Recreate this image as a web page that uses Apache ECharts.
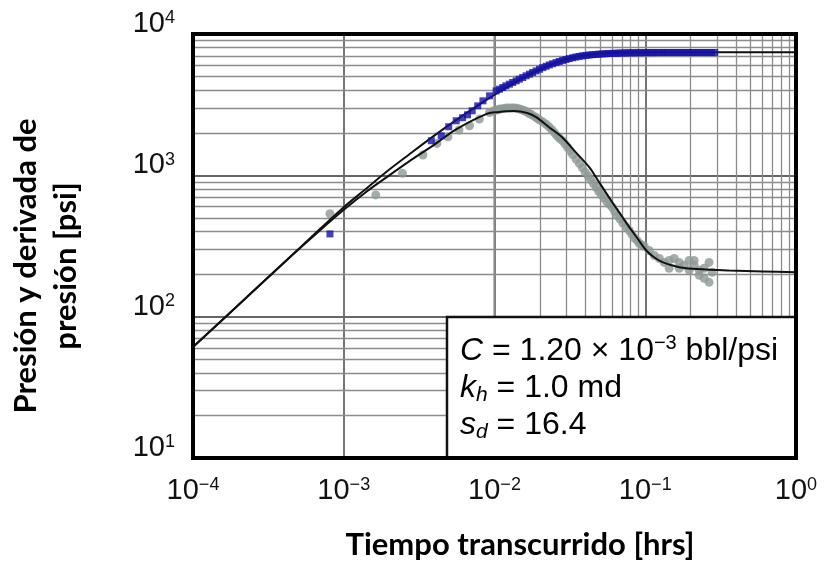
<!DOCTYPE html>
<html><head><meta charset="utf-8">
<script src="https://cdn.jsdelivr.net/npm/echarts@6/dist/echarts.min.js"></script>
<style>html,body{margin:0;padding:0;background:#fff}#c{width:824px;height:562px}</style>
</head><body><div id="c"></div>
<script>
// ---- tick labels ----
const xTickExponents = ['\u22124', '\u22123', '\u22122', '\u22121', '0'];   // 10^-4 .. 10^0
const yTickExponents = ['1', '2', '3', '4'];                                 // 10^1 .. 10^4

// ---- measured pressure (blue squares) ----
const pressureTime = [8.1e-4, 3.81e-3, 4.43e-3, 4.97e-3, 5.57e-3, 6.14e-3, 6.62e-3, 7.11e-3, 7.74e-3, 8.38e-3,
  9.27e-3, 1.026e-2, 1.08e-2, 1.135e-2, 1.19e-2, 1.256e-2, 1.32e-2, 1.393e-2, 1.46e-2, 1.538e-2,
  1.62e-2, 1.706e-2, 1.79e-2, 1.888e-2, 1.99e-2, 2.09e-2, 2.2e-2, 2.31e-2, 2.43e-2, 2.56e-2,
  2.69e-2, 2.83e-2, 2.98e-2, 3.13e-2, 3.3e-2, 3.46e-2, 3.64e-2, 3.83e-2, 4.03e-2, 4.24e-2,
  4.46e-2, 4.69e-2, 4.93e-2, 5.19e-2, 5.46e-2, 5.74e-2, 6.04e-2, 6.35e-2, 6.68e-2, 7.02e-2,
  7.39e-2, 7.77e-2, 8.17e-2, 8.6e-2, 9.04e-2, 9.5e-2, 0.1, 0.105, 0.11, 0.116,
  0.122, 0.129, 0.135, 0.142, 0.15, 0.157, 0.165, 0.174, 0.183, 0.193,
  0.203, 0.213, 0.224, 0.236, 0.248, 0.261, 0.275, 0.289];
const pressureValue = [385, 1757, 1906, 2206, 2432, 2555, 2680, 2862, 3102, 3366,
  3651, 3960, 4070, 4180, 4300, 4415, 4540, 4660, 4790, 4918,
  5060, 5196, 5340, 5480, 5630, 5785, 5910, 6040, 6160, 6275,
  6390, 6500, 6600, 6700, 6790, 6870, 6940, 7000, 7050, 7100,
  7140, 7170, 7200, 7230, 7255, 7280, 7295, 7310, 7325, 7340,
  7350, 7360, 7365, 7370, 7375, 7380, 7385, 7390, 7390, 7390,
  7395, 7395, 7395, 7400, 7400, 7400, 7400, 7400, 7400, 7400,
  7400, 7400, 7400, 7400, 7400, 7400, 7400, 7400];

// ---- measured pressure derivative (grey circles) ----
const derivTime = [8.1e-4, 1.63e-3, 2.45e-3, 3.35e-3, 4.15e-3, 4.91e-3, 5.81e-3, 6.82e-3, 7.94e-3, 9.27e-3,
  9.8e-3, 1.03e-2, 1.07e-2, 1.1e-2, 1.15e-2, 1.2e-2, 1.25e-2, 1.3e-2, 1.35e-2, 1.4e-2,
  1.45e-2, 1.5e-2, 1.55e-2, 1.6e-2, 1.65e-2, 1.7e-2, 1.77e-2, 1.85e-2, 1.92e-2, 2.0e-2,
  2.1e-2, 2.2e-2, 2.3e-2, 2.4e-2, 2.5e-2, 2.6e-2, 2.7e-2, 2.82e-2, 2.93e-2, 3.05e-2,
  3.17e-2, 3.3e-2, 3.48e-2, 3.66e-2, 3.83e-2, 4.0e-2, 4.17e-2, 4.35e-2, 4.53e-2, 4.72e-2,
  4.9e-2, 5.1e-2, 5.32e-2, 5.55e-2, 5.8e-2, 6.04e-2, 6.27e-2, 6.5e-2, 6.8e-2, 7.1e-2,
  7.45e-2, 7.83e-2, 8.15e-2, 8.5e-2, 8.85e-2, 0.0912, 0.095, 0.0985, 0.106, 0.1148,
  0.124, 0.1336, 0.144, 0.1556, 0.168, 0.181, 0.1956, 0.211, 0.228, 0.246,
  0.265, 0.278, 0.228, 0.246, 0.265, 0.1956, 0.168, 0.144, 0.211];
const derivValue = [535, 727, 1033, 1393, 1682, 1876, 2091, 2243, 2500, 2784,
  2850, 2900, 2930, 2950, 2975, 2990, 3000, 3000, 2995, 2980,
  2955, 2920, 2890, 2850, 2800, 2740, 2680, 2600, 2530, 2450,
  2380, 2300, 2200, 2100, 2000, 1900, 1830, 1760, 1670, 1580,
  1490, 1400, 1300, 1210, 1130, 1050, 990, 930, 875, 823,
  775, 730, 690, 650, 620, 594, 555, 520, 490, 460,
  432, 407, 382, 360, 345, 330, 322, 315, 294, 271,
  258, 242, 220, 258, 242, 231, 250, 231, 213, 220,
  242, 206, 196, 187, 175, 213, 220, 250, 250];

// ---- model curves (black lines) ----
const modelPressureTime = [1e-4, 2e-4, 4e-4, 7e-4, 1e-3, 1.4e-3, 1.92e-3, 2.7e-3, 3.9e-3, 5.5e-3,
  8e-3, 1.1e-2, 1.5e-2, 2e-2, 2.6e-2, 3.5e-2, 5e-2, 7e-2, 0.12, 0.3, 1];
const modelPressureValue = [61, 121, 241, 420, 595, 800, 1060, 1400, 1880, 2440,
  3190, 3950, 4800, 5600, 6300, 6900, 7280, 7390, 7420, 7430, 7430];
const modelDerivTime = [1e-4, 2e-4, 4e-4, 7e-4, 1e-3, 1.4e-3, 1.92e-3, 2.7e-3, 3.9e-3, 5.5e-3,
  8.8e-3, 1.05e-2, 1.35e-2, 1.65e-2, 1.9e-2, 2.3e-2, 2.82e-2, 3.5e-2, 4.26e-2, 5e-2,
  6.04e-2, 7e-2, 7.83e-2, 9e-2, 0.1016, 0.115, 0.13, 0.15, 0.168, 0.22, 0.36, 0.6, 1];
const modelDerivValue = [61, 121, 240, 410, 570, 760, 968, 1250, 1622, 2100,
  2712, 2800, 2850, 2760, 2570, 2190, 1854, 1436, 1139, 877,
  645, 513, 430, 351, 294, 262, 243, 231, 224, 217, 212, 209, 206];

const zip = (a, b) => a.map((t, i) => [t, b[i]]);

// minor log grid lines (2..9 of each decade)
const minorX = [], minorY = [];
for (let d = -4; d < 0; d++) for (let m = 2; m <= 9; m++) minorX.push(+(m * Math.pow(10, d)).toPrecision(3));
for (let d = 1; d < 4; d++) for (let m = 2; m <= 9; m++) minorY.push(+(m * Math.pow(10, d)).toPrecision(3));

const tickRich = {
  b: { fontSize: 29, fontFamily: 'Liberation Sans', color: '#111' },
  s: { fontSize: 18, fontFamily: 'Liberation Sans', color: '#111', verticalAlign: 'top', lineHeight: 12 }
};
const boxRich = {
  n: { fontSize: 32, fontFamily: 'Liberation Sans', color: '#111', lineHeight: 36 },
  i: { fontSize: 32, fontFamily: 'Liberation Sans', fontStyle: 'italic', color: '#111', lineHeight: 36 },
  sup: { fontSize: 20, fontFamily: 'Liberation Sans', color: '#111', verticalAlign: 'top', lineHeight: 12 },
  sub: { fontSize: 21, fontFamily: 'Liberation Sans', fontStyle: 'italic', color: '#111', verticalAlign: 'bottom', lineHeight: 10 }
};

const chart = echarts.init(document.getElementById('c'), null, { renderer: 'canvas' });
chart.setOption({
  animation: false,
  backgroundColor: '#fff',
  grid: { left: 193, top: 34, right: 28, bottom: 104, containLabel: false },
  xAxis: {
    type: 'log', logBase: 10, min: 1e-4, max: 1,
    axisLine: { show: false }, axisTick: { show: false },
    splitLine: { show: true, lineStyle: { color: '#666', width: 1.8 } },
    axisLabel: {
      margin: 18,
      formatter: v => '{b|10}{s|' + xTickExponents[Math.round(Math.log10(v)) + 4] + '}',
      rich: tickRich
    }
  },
  yAxis: {
    type: 'log', logBase: 10, min: 10, max: 10000,
    axisLine: { show: false }, axisTick: { show: false },
    splitLine: { show: true, lineStyle: { color: '#666', width: 1.8 } },
    axisLabel: {
      margin: 18,
      padding: [0, 0, 20, 0],
      formatter: v => '{b|10}{s|' + yTickExponents[Math.round(Math.log10(v)) - 1] + '}',
      rich: tickRich
    }
  },
  series: [
    {
      type: 'line', data: [], silent: true,
      markLine: {
        z: 1, silent: true, symbol: ['none', 'none'], label: { show: false }, animation: false,
        lineStyle: { color: '#8c8c8c', width: 1.3, type: 'solid' },
        emphasis: { disabled: true },
        data: minorX.map(v => ({ xAxis: v })).concat(minorY.map(v => ({ yAxis: v })))
      }
    },
    {
      name: 'Derivada', type: 'scatter', z: 3, symbol: 'circle', symbolSize: 9,
      itemStyle: { color: '#8e9996' }, data: zip(derivTime, derivValue)
    },
    {
      name: 'Modelo derivada', type: 'line', z: 4, symbol: 'none', smooth: 0.3,
      lineStyle: { color: '#111', width: 2 }, data: zip(modelDerivTime, modelDerivValue)
    },
    {
      name: 'Modelo presión', type: 'line', z: 4, symbol: 'none', smooth: 0.3,
      lineStyle: { color: '#111', width: 2 }, data: zip(modelPressureTime, modelPressureValue)
    },
    {
      name: 'Presión', type: 'scatter', z: 5, symbol: 'rect', symbolSize: 7,
      itemStyle: { color: '#1410a6' }, data: zip(pressureTime, pressureValue)
    }
  ],
  graphic: [
    { type: 'rect', z: 50, shape: { x: 447, y: 317, width: 349, height: 141 },
      style: { fill: '#fff', stroke: '#111', lineWidth: 2.5 } },
    { type: 'text', z: 60, x: 460, y: 351,
      style: { text: '{i|C}{n| = 1.20 \u00d7 10}{sup|\u22123}{n| bbl/psi}', rich: boxRich, verticalAlign: 'middle', align: 'left' } },
    { type: 'text', z: 60, x: 460, y: 388,
      style: { text: '{i|k}{sub|h}{n| = 1.0 md}', rich: boxRich, verticalAlign: 'middle', align: 'left' } },
    { type: 'text', z: 60, x: 460, y: 425,
      style: { text: '{i|s}{sub|d}{n| = 16.4}', rich: boxRich, verticalAlign: 'middle', align: 'left' } },
    { type: 'rect', z: 100, shape: { x: 193, y: 34, width: 603, height: 424 },
      style: { fill: 'none', stroke: '#000', lineWidth: 4 } },
    { type: 'text', z: 60, x: 520, y: 545,
      style: { text: 'Tiempo transcurrido [hrs]', fontSize: 31, fontWeight: 'bold', fontFamily: 'Lato', fill: '#000', align: 'center', verticalAlign: 'middle' } },
    { type: 'text', z: 60, x: 46, y: 266, rotation: Math.PI / 2,
      style: { text: 'Presi\u00f3n y derivada de\npresi\u00f3n [psi]', fontSize: 31, fontWeight: 'bold', fontFamily: 'Lato', fill: '#000', align: 'center', verticalAlign: 'middle', lineHeight: 40 } }
  ]
});
</script>
</body></html>
